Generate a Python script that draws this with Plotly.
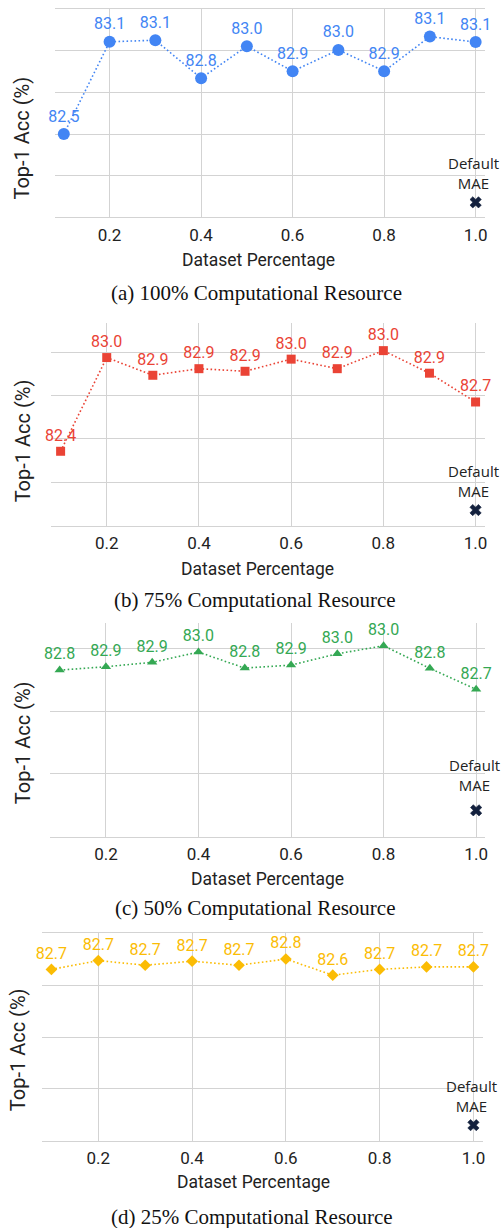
import plotly.graph_objects as go

W, H = 504, 1228

# ---- data -------------------------------------------------------------
dataset_pct = [0.1, 0.2, 0.3, 0.4, 0.5, 0.6, 0.7, 0.8, 0.9, 1.0]
x_ticks = [0.2, 0.4, 0.6, 0.8, 1.0]

# Top-1 accuracy (%) for each computational budget
acc_100 = [82.500, 83.055, 83.064, 82.836, 83.028, 82.878, 83.006, 82.878, 83.086, 83.053]
acc_75 = [82.429, 82.969, 82.867, 82.905, 82.890, 82.960, 82.905, 83.009, 82.879, 82.713]
acc_50 = [82.827, 82.854, 82.889, 82.971, 82.843, 82.867, 82.957, 83.021, 82.841, 82.674]
acc_25 = [82.652, 82.737, 82.692, 82.731, 82.692, 82.752, 82.596, 82.652, 82.676, 82.676]

# Default MAE baseline (full dataset) for each budget
default_mae = [82.09, 82.09, 81.71, 81.15]

captions = [
    "(a) 100% Computational Resource",
    "(b) 75% Computational Resource",
    "(c) 50% Computational Resource",
    "(d) 25% Computational Resource",
]

# ---- styling / layout -------------------------------------------------
GRID = "#d3d3d3"
TEXT = "#222222"
SANS = "Roboto"

panels = [
    dict(acc=acc_100, color="#4285F4", symbol="circle", size=12,
         yrange=[82.0, 83.25], dtick=0.25, box=(55.0, 9.3, 487.7, 217.3), mirror=True,
         ytitle=(21.7, 138.0), xtitle=(260.0, 260.3), caption=(258.0, 293.0), mae_shift=29),
    dict(acc=acc_75, color="#EA4335", symbol="square", size=9,
         yrange=[82.0, 83.17], dtick=0.25, box=(51.7, 322.7, 487.7, 525.7), mirror=False,
         ytitle=(22.7, 440.8), xtitle=(259.0, 569.3), caption=(257.0, 600.0), mae_shift=29),
    dict(acc=acc_50, color="#34A853", symbol="triangle-up", size=9,
         yrange=[81.5, 83.2], dtick=0.5, box=(50.7, 623.3, 488.3, 836.7), mirror=False,
         ytitle=(23.3, 743.0), xtitle=(269.5, 879.3), caption=(257.0, 908.3), mae_shift=35),
    dict(acc=acc_25, color="#FBBC04", symbol="diamond", size=9,
         yrange=[81.0, 83.0], dtick=0.5, box=(42.3, 933.3, 485.7, 1140.7), mirror=True,
         ytitle=(18.3, 1050.0), xtitle=(254.8, 1181.7), caption=(253.8, 1216.7), mae_shift=29),
]


def px_x(px):
    return px / W


def px_y(py):
    return 1 - py / H


fig = go.Figure()
annotations = []

for i, p in enumerate(panels):
    n = "" if i == 0 else str(i + 1)
    xa, ya = "x" + n, "y" + n
    x0, y0, x1, y1 = p["box"]

    # accuracy curve
    fig.add_trace(go.Scatter(
        x=dataset_pct, y=p["acc"], xaxis=xa, yaxis=ya,
        mode="lines+markers+text",
        line=dict(color=p["color"], width=1.6, dash="1.6px,2.4px"),
        marker=dict(symbol=p["symbol"], size=p["size"], color=p["color"]),
        texttemplate="%{y:.1f}", textposition="top center",
        textfont=dict(family=SANS, size=16, color=p["color"]),
        cliponaxis=False, showlegend=False, hoverinfo="skip",
    ))

    # default MAE baseline point
    fig.add_trace(go.Scatter(
        x=[dataset_pct[-1]], y=[default_mae[i]], xaxis=xa, yaxis=ya,
        mode="markers",
        marker=dict(symbol="x", size=10, color="#13203d",
                    line=dict(width=0.6, color="#13203d")),
        cliponaxis=False, showlegend=False, hoverinfo="skip",
    ))
    annotations.append(dict(
        x=dataset_pct[-1], y=default_mae[i], xref=xa, yref=ya,
        text="Default<br>MAE", showarrow=False, xshift=-2, yshift=p["mae_shift"],
        font=dict(family="Open Sans", size=15, color=TEXT),
        xanchor="center", yanchor="middle", align="center",
    ))

    fig.layout["xaxis" + n] = dict(
        domain=[px_x(x0), px_x(x1)], anchor=ya,
        range=[0.08, 1.02], tickmode="array", tickvals=x_ticks,
        ticktext=[f"{v:.1f}" for v in x_ticks], ticks="",
        tickfont=dict(family=SANS, size=17, color=TEXT), ticklabelstandoff=2,
        showgrid=True, gridcolor=GRID, gridwidth=1, zeroline=False,
        showline=True, linecolor=GRID, linewidth=1, mirror=p["mirror"],
    )
    fig.layout["yaxis" + n] = dict(
        domain=[px_y(y1), px_y(y0)], anchor=xa,
        range=p["yrange"], tick0=p["yrange"][0], dtick=p["dtick"],
        showticklabels=False, ticks="",
        showgrid=True, gridcolor=GRID, gridwidth=1, zeroline=False, showline=False,
    )

    # axis titles and caption
    annotations.append(dict(
        x=px_x(p["ytitle"][0]), y=px_y(p["ytitle"][1]), xref="paper", yref="paper",
        text="Top-1 Acc (%)", textangle=-90, showarrow=False,
        font=dict(family=SANS, size=20, color=TEXT),
        xanchor="center", yanchor="middle",
    ))
    annotations.append(dict(
        x=px_x(p["xtitle"][0]), y=px_y(p["xtitle"][1]), xref="paper", yref="paper",
        text="Dataset Percentage", showarrow=False,
        font=dict(family=SANS, size=17.5, color=TEXT),
        xanchor="center", yanchor="middle",
    ))
    annotations.append(dict(
        x=px_x(p["caption"][0]), y=px_y(p["caption"][1]), xref="paper", yref="paper",
        text=captions[i], showarrow=False,
        font=dict(family="Liberation Serif", size=21, color="#111111"),
        xanchor="center", yanchor="middle",
    ))

fig.update_layout(
    width=W, height=H, autosize=False,
    margin=dict(l=0, r=0, t=0, b=0),
    paper_bgcolor="white", plot_bgcolor="white",
    annotations=annotations,
)

fig.write_html("out.html")
